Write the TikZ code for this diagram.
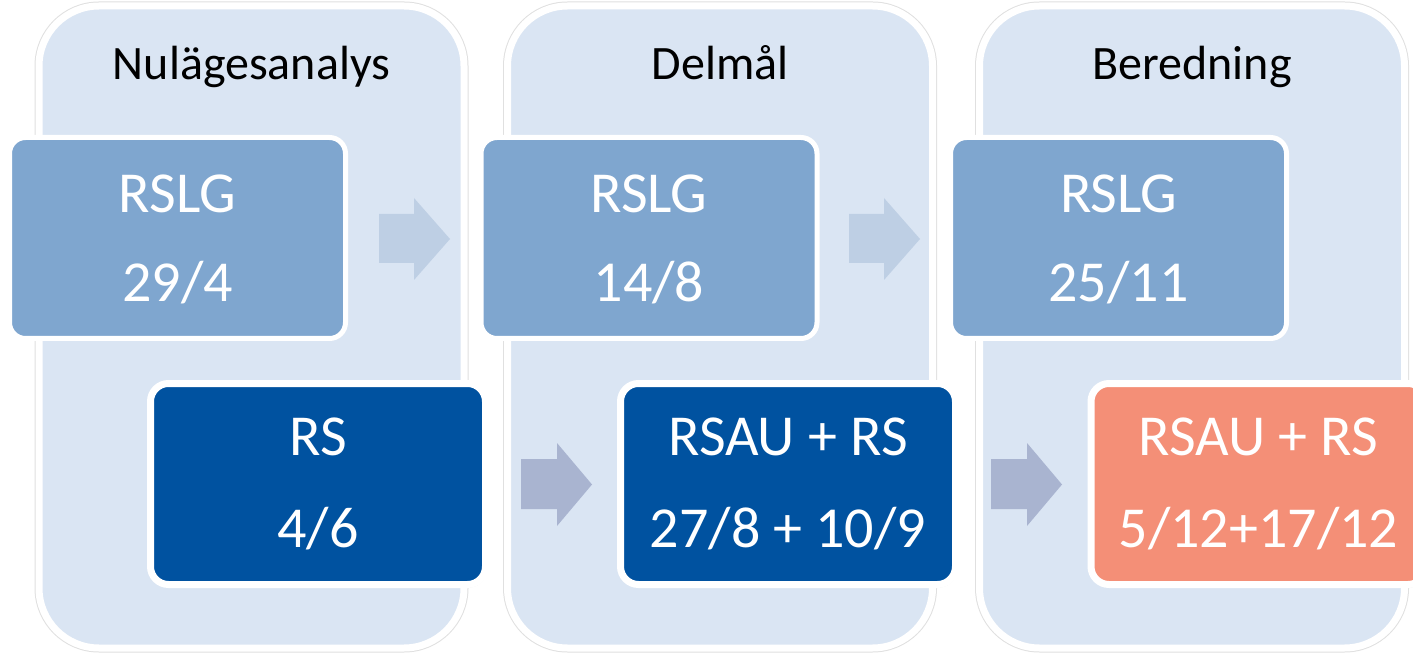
\documentclass[tikz,border=0pt]{standalone}
\usepackage{fontspec}
\setmainfont{Carlito}
\usetikzlibrary{shadows}
\definecolor{colfill}{HTML}{DAE5F3}
\definecolor{topfill}{HTML}{7FA6CF}
\definecolor{darkfill}{HTML}{0052A0}
\definecolor{salmon}{HTML}{F48F77}
\definecolor{toparrow}{HTML}{BECFE4}
\definecolor{botarrow}{HTML}{A9B4D0}
\tikzset{
  column/.style={draw=white, line width=7pt, fill=colfill, rounded corners=60pt,
    minimum width=425pt, minimum height=642pt, inner sep=0pt,
    preaction={draw=black!12, line width=9pt}},
  topbox/.style={draw=white, line width=5pt, fill=topfill, rounded corners=16pt,
    minimum width=336pt, minimum height=201pt, inner sep=0pt},
  botbox/.style={draw=white, line width=7pt, rounded corners=18pt,
    minimum width=335pt, minimum height=201pt, inner sep=0pt,
    drop shadow={shadow xshift=1pt, shadow yshift=-3pt, opacity=0.3}},
  title/.style={anchor=base, font=\fontsize{48}{52}\selectfont, text=black, inner sep=0pt},
  boxtext/.style={anchor=base, font=\fontsize{58}{62}\selectfont, text=white, inner sep=0pt}
}
\begin{document}
\begin{tikzpicture}[x=1pt,y=1pt]
\useasboundingbox (0,0) rectangle (1413,654);
\fill[white] (0,0) rectangle (1413,654);
% columns
\node[column] (c1) at (251.5,327) {};
\node[column] (c2) at (720,327) {};
\node[column] (c3) at (1192,327) {};
% titles
\node[title] (h1) at (251.5,574) {Nulägesanalys};
\node[title] (h2) at (720,574) {Delmål};
\node[title] (h3) at (1192,574) {Beredning};
% top boxes
\node[topbox] (r1) at (177.5,416) {};
\node[topbox] (r2) at (649,416) {};
\node[topbox] (r3) at (1118.5,416) {};
\node[boxtext] (r1a) at (177.5,441) {RSLG};
\node[boxtext] (r1b) at (177.5,352) {29/4};
\node[boxtext] (r2a) at (649,441) {RSLG};
\node[boxtext] (r2b) at (649,352) {14/8};
\node[boxtext] (r3a) at (1118.5,441) {RSLG};
\node[boxtext] (r3b) at (1118.5,352) {25/11};
% bottom boxes
\node[botbox, fill=darkfill] (b1) at (318,170) {};
\node[botbox, fill=darkfill] (b2) at (788,170) {};
\node[botbox, fill=salmon] (b3) at (1258.5,170) {};
\node[boxtext] (b1a) at (318,199) {RS};
\node[boxtext] (b1b) at (318,107) {4/6};
\node[boxtext] (b2a) at (788,199) {RSAU + RS};
\node[boxtext] (b2b) at (788,107) {27/8 + 10/9};
\node[boxtext] (b3a) at (1258.5,199) {RSAU + RS};
\node[boxtext] (b3b) at (1258.5,107) {5/12+17/12};
% arrows
\foreach \dx in {0,470} {
  \fill[toparrow] (379+\dx,440) -- (414+\dx,440) -- (414+\dx,456) -- (450+\dx,415)
     -- (414+\dx,374) -- (414+\dx,391) -- (379+\dx,391) -- cycle;
  \fill[botarrow] (521+\dx,195) -- (557+\dx,195) -- (557+\dx,211) -- (592+\dx,169.5)
     -- (557+\dx,128) -- (557+\dx,145) -- (521+\dx,145) -- cycle;
}
\end{tikzpicture}
\end{document}
